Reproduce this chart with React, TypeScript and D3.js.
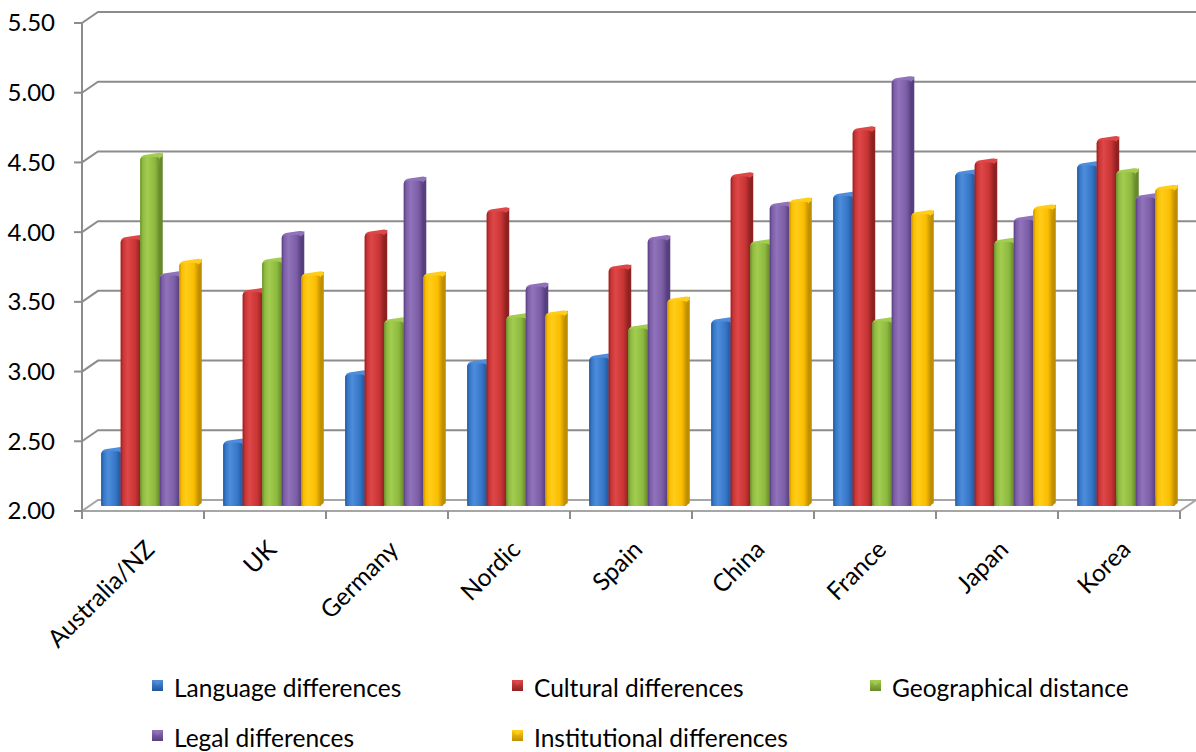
import React from 'react';
import * as d3 from 'd3';

const categories = ['Australia/NZ', 'UK', 'Germany', 'Nordic', 'Spain', 'China', 'France', 'Japan', 'Korea'];
const seriesNames = ['Language differences', 'Cultural differences', 'Geographical distance', 'Legal differences', 'Institutional differences'];

const language = [2.40, 2.46, 2.95, 3.03, 3.07, 3.33, 4.23, 4.39, 4.45];
const cultural = [3.92, 3.54, 3.96, 4.12, 3.71, 4.37, 4.70, 4.47, 4.63];
const geographical = [4.51, 3.76, 3.33, 3.36, 3.28, 3.89, 3.33, 3.90, 4.40];
const legal = [3.66, 3.95, 4.34, 3.58, 3.92, 4.16, 5.06, 4.06, 4.22];
const institutional = [3.75, 3.66, 3.66, 3.38, 3.48, 4.19, 4.10, 4.14, 4.28];

const yTicks = [2.0, 2.5, 3.0, 3.5, 4.0, 4.5, 5.0, 5.5];

const palette = [
  { base: '#3476c6', light: '#4d8ddb', dark: '#22559b' },
  { base: '#c93434', light: '#de4747', dark: '#8e2222' },
  { base: '#8db93f', light: '#a2cd50', dark: '#67892b' },
  { base: '#7c5ea6', light: '#9073ba', dark: '#563f7e' },
  { base: '#fbbd00', light: '#ffcd1a', dark: '#bf8f00' },
];

const allSeries = [language, cultural, geographical, legal, institutional];

// 3D frame
const FX0 = 82;
const FX1 = 1180;
const DX = 16;
const DY = -11;
const BDX = 7;
const BDY = -5;

const font = 'Lato, "Open Sans", sans-serif';

export default function App() {
  const y = d3.scaleLinear().domain([2, 5.5]).range([511, 23]);
  const x = d3.scaleBand<string>().domain(categories).range([FX0, FX1]).paddingInner(0.2).paddingOuter(0.1);
  const xs = d3.scaleBand<string>().domain(seriesNames).range([0, x.bandwidth()]);
  const bw = xs.bandwidth();
  const step = x.step();
  const y0 = y(2);

  const bars: JSX.Element[] = [];
  categories.forEach((c, ci) => {
    allSeries.forEach((vals, si) => {
      const v = vals[ci];
      const bx = (x(c) || 0) + (xs(seriesNames[si]) || 0) + BDX;
      const top = y(v) + BDY;
      const bot = y0 + BDY;
      const p = palette[si];
      const r = 4;
      bars.push(
        <g key={`${ci}-${si}`}>
          <polygon
            points={`${bx + bw - 1},${top} ${bx + bw + 3},${top - 3} ${bx + bw + 3},${bot - 3} ${bx + bw - 1},${bot}`}
            fill={p.dark}
          />
          <path
            d={`M${bx},${bot} L${bx},${top + r} Q${bx},${top} ${bx + r},${top - 1} L${bx + bw - r + 2},${top - 3} Q${bx + bw + 3},${top - 4} ${bx + bw + 3},${top} L${bx + bw},${top + 2} Z`}
            fill={p.light}
          />
          <path
            d={`M${bx},${bot} L${bx},${top + r} Q${bx},${top + 1} ${bx + r},${top + 1} L${bx + bw - r},${top + 1} Q${bx + bw},${top + 1} ${bx + bw},${top + r} L${bx + bw},${bot} Z`}
            fill={`url(#grad${si})`}
          />
        </g>
      );
    });
  });

  return (
    <svg width={1196} height={752} viewBox="0 0 1196 752" style={{ display: 'block', position: 'absolute', left: 0, top: 0, background: '#fff' }}>
      <defs>
        {palette.map((p, i) => (
          <linearGradient key={i} id={`grad${i}`} x1="0" x2="1" y1="0" y2="0">
            <stop offset="0" stopColor={p.dark} />
            <stop offset="0.12" stopColor={p.base} />
            <stop offset="0.35" stopColor={p.light} />
            <stop offset="0.75" stopColor={p.base} />
            <stop offset="1" stopColor={p.dark} />
          </linearGradient>
        ))}
        {palette.map((p, i) => (
          <linearGradient key={`l${i}`} id={`leg${i}`} x1="0" x2="0" y1="0" y2="1">
            <stop offset="0" stopColor={p.light} />
            <stop offset="1" stopColor={p.dark} />
          </linearGradient>
        ))}
      </defs>

      {/* floor */}
      <polygon
        points={`${FX0},${y0} ${FX1},${y0} ${FX1 + DX},${y0 + DY} ${FX0 + DX},${y0 + DY}`}
        fill="#fff"
        stroke="#a6a6a6"
        strokeWidth={2}
      />

      {/* gridlines + y ticks */}
      {yTicks.map(t => (
        <g key={t}>
          {t > 2 && (
            <polyline
              points={`${FX0},${y(t)} ${FX0 + DX},${y(t) + DY} 1196,${y(t) + DY}`}
              fill="none"
              stroke="#8c8c8c"
              strokeWidth={2}
            />
          )}
          <line x1={FX0 - 8} x2={FX0} y1={y(t)} y2={y(t)} stroke="#8c8c8c" strokeWidth={2} />
          <text x={55} y={y(t)} dy="0.35em" textAnchor="end" fontFamily={font} fontSize={24} fill="#000">
            {t.toFixed(2)}
          </text>
        </g>
      ))}
      <line x1={FX0} x2={FX0} y1={y(5.5)} y2={y0} stroke="#8c8c8c" strokeWidth={2} />

      {/* category ticks */}
      {d3.range(categories.length + 1).map(i => (
        <line key={i} x1={FX0 + i * step} x2={FX0 + i * step} y1={y0} y2={y0 + 8} stroke="#8c8c8c" strokeWidth={2} />
      ))}

      {bars}

      {/* category labels */}
      {categories.map(c => {
        const cx = (x(c) || 0) + x.bandwidth() / 2;
        return (
          <text
            key={c}
            transform={`translate(${cx + 13},${y0 + 40}) rotate(-45)`}
            textAnchor="end"
            fontFamily={font}
            fontSize={24.5}
            fill="#000"
          >
            {c}
          </text>
        );
      })}

      {/* legend */}
      {seriesNames.map((s, i) => {
        const col = i < 3 ? i : i - 3;
        const row = i < 3 ? 0 : 1;
        const lx = [152, 512, 870][col];
        const ly = [680, 730][row];
        return (
          <g key={s}>
            <rect x={lx} y={ly} width={11} height={11} fill={`url(#leg${i})`} />
            <polygon points={`${lx},${ly} ${lx + 11},${ly} ${lx + 5.5},${ly + 5.5}`} fill={palette[i].light} opacity={0.8} />
            <text x={lx + 22} y={ly + 17} fontFamily={font} fontSize={24.5} fill="#000">
              {s}
            </text>
          </g>
        );
      })}
    </svg>
  );
}
